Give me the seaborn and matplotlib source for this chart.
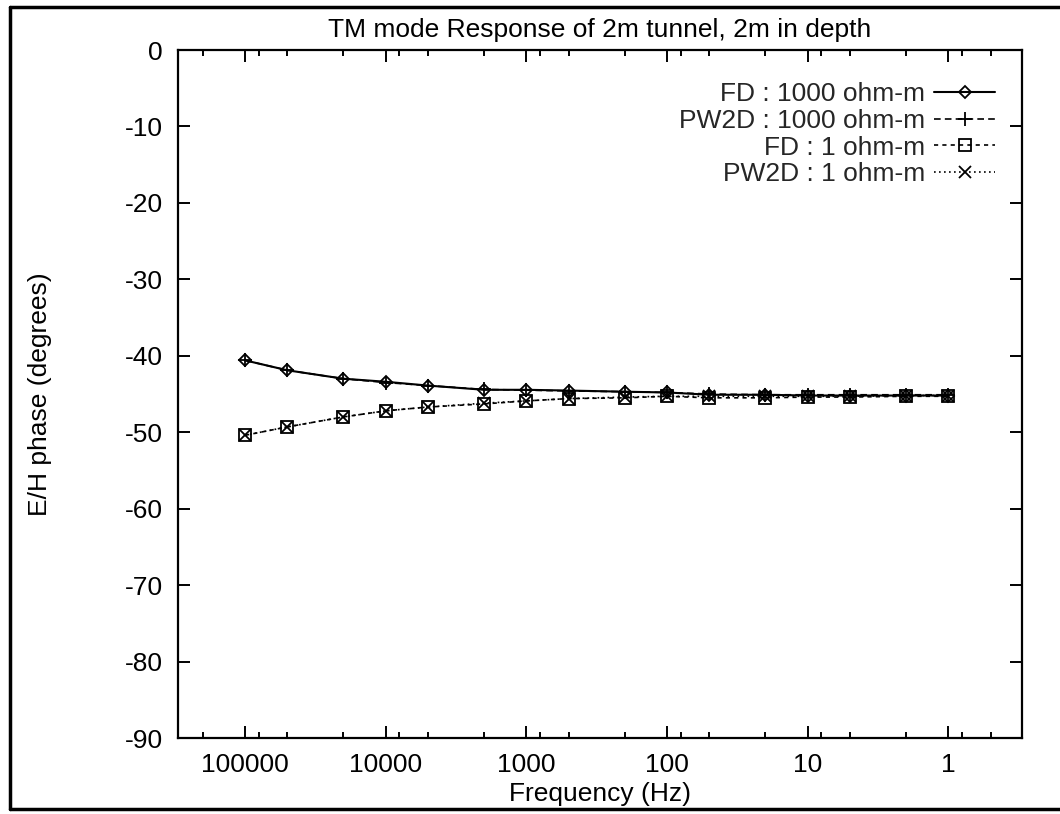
import matplotlib
matplotlib.use('Agg')
import matplotlib.pyplot as plt
import seaborn as sns
from matplotlib.ticker import FixedLocator, FixedFormatter, LogLocator, NullFormatter, NullLocator
from matplotlib.lines import Line2D

# ---- data ----
freq_hz = [100000, 50000, 20000, 10000, 5000, 2000, 1000, 500, 200, 100, 50, 20, 10, 5, 2, 1]
fd_1000 = [-40.6, -41.9, -43.0, -43.4, -43.9, -44.45, -44.45, -44.55, -44.7, -44.8, -45.1, -45.1, -45.2, -45.2, -45.2, -45.2]
pw2d_1000 = [-40.6, -41.9, -43.0, -43.5, -43.9, -44.4, -44.5, -44.6, -44.7, -44.8, -45.0, -45.1, -45.1, -45.1, -45.1, -45.1]
fd_1 = [-50.4, -49.3, -48.0, -47.2, -46.7, -46.3, -45.9, -45.6, -45.5, -45.3, -45.5, -45.5, -45.4, -45.4, -45.3, -45.3]
pw2d_1 = [-50.4, -49.3, -48.0, -47.2, -46.7, -46.2, -45.9, -45.6, -45.4, -45.3, -45.3, -45.3, -45.3, -45.3, -45.2, -45.2]
series_labels = ['FD : 1000 ohm-m', 'PW2D : 1000 ohm-m', 'FD : 1 ohm-m', 'PW2D : 1 ohm-m']

x_ticks = [100000, 10000, 1000, 100, 10, 1]
x_tick_labels = ['100000', '10000', '1000', '100', '10', '1']
y_ticks = [0, -10, -20, -30, -40, -50, -60, -70, -80, -90]
y_tick_labels = ['0', '-10', '-20', '-30', '-40', '-50', '-60', '-70', '-80', '-90']

title_text = 'TM mode Response of 2m tunnel, 2m in depth'
x_label = 'Frequency (Hz)'
y_label = 'E/H phase (degrees)'

# ---- style ----
sns.set_theme(style='ticks')
plt.rcParams['font.family'] = ['Liberation Sans', 'DejaVu Sans']
FS = 19

W, H = 1060, 814
fig = plt.figure(figsize=(W / 100, H / 100), dpi=100)
fig.patch.set_facecolor('white')
ax_l, ax_r, ax_t, ax_b = 178, 1022, 50, 738
ax = fig.add_axes([ax_l / W, 1 - ax_b / H, (ax_r - ax_l) / W, (ax_b - ax_t) / H])
ax.set_facecolor('white')
ax.set_xscale('log')

line_styles = [
    dict(marker='D', markersize=6.5, linestyle='-', linewidth=1.5),
    dict(marker='+', markersize=10, linestyle=(0, (4, 2.5)), linewidth=1.2),
    dict(marker='s', markersize=9, linestyle=(0, (2.5, 2.5)), linewidth=1.2),
    dict(marker='x', markersize=8, linestyle=(0, (1, 2)), linewidth=1.2),
]
series_values = [fd_1000, pw2d_1000, fd_1, pw2d_1]

for vals, lab, st in zip(series_values, series_labels, line_styles):
    sns.lineplot(x=freq_hz, y=vals, ax=ax, color='black', label=lab,
                 markerfacecolor='none', markeredgecolor='black',
                 markeredgewidth=1.3, sort=False, **st)

ax.set_xlim(3e5, 0.3)
ax.set_ylim(-90, 0)

ax.xaxis.set_major_locator(FixedLocator(x_ticks))
ax.xaxis.set_major_formatter(FixedFormatter(x_tick_labels))
ax.xaxis.set_minor_locator(LogLocator(base=10, subs=(2.0, 5.0, 8.0)))
ax.xaxis.set_minor_formatter(NullFormatter())
ax.yaxis.set_major_locator(FixedLocator(y_ticks))
ax.yaxis.set_major_formatter(FixedFormatter(y_tick_labels))
ax.yaxis.set_minor_locator(NullLocator())

ax.tick_params(which='both', direction='in', top=True, right=True, width=1.4, color='black')
ax.tick_params(which='major', length=8.5, labelsize=FS, labelcolor='black')
ax.tick_params(which='minor', length=4.5)
ax.tick_params(axis='x', which='major', pad=11)
ax.tick_params(axis='y', which='major', pad=11)

for sp in ax.spines.values():
    sp.set_visible(True)
    sp.set_linewidth(1.6)
    sp.set_color('black')

ax.set_title(title_text, fontsize=FS, pad=9, color='black')
ax.set_xlabel(x_label, fontsize=FS, color='black')
ax.set_ylabel(y_label, fontsize=FS, color='black')
ax.xaxis.set_label_coords(0.5, (ax_b - 782) / (ax_b - ax_t))
ax.yaxis.set_label_coords((52 - ax_l) / (ax_r - ax_l), 0.5)

handles, labels = ax.get_legend_handles_labels()
ax.legend(handles, labels, loc='upper right', bbox_to_anchor=(0.968, 0.953),
          markerfirst=False, frameon=False, handlelength=2.3, handletextpad=0.35,
          labelspacing=0.1, borderpad=0, borderaxespad=0, fontsize=FS)

# outer frame of the page
fx0, fy_top, fy_bot = 10 / W, 1 - 7 / H, 1 - 809 / H
for xs, ys in [([fx0, fx0], [fy_bot, fy_top]), ([fx0, 1.0], [fy_top, fy_top]), ([fx0, 1.0], [fy_bot, fy_bot])]:
    fig.add_artist(Line2D(xs, ys, transform=fig.transFigure, color='black', linewidth=2.5))

fig.savefig('out.png', dpi=100)
